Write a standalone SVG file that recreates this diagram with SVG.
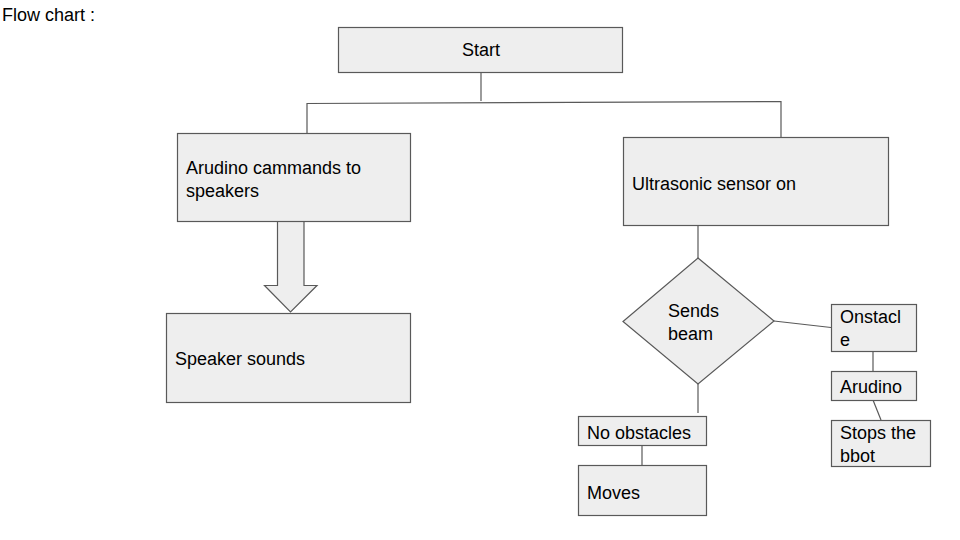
<svg xmlns="http://www.w3.org/2000/svg" width="960" height="540" viewBox="0 0 960 540">
<style>
.box{fill:#eeeeee;stroke:#595959;stroke-width:1.2}
.ln{fill:none;stroke:#595959;stroke-width:1.2}
text{font-family:"Liberation Sans",Arial,sans-serif;font-size:18px;fill:#000}
</style>
<rect width="960" height="540" fill="#ffffff"/>
<text x="2" y="21">Flow chart :</text>
<g id="connectors">
<path class="ln" d="M481 72 V101"/>
<path class="ln" d="M307 133 V103.5 L781 101.5 V137"/>
<path class="ln" d="M698 225 V258"/>
<path class="ln" d="M774 321 L831 327.5"/>
<path class="ln" d="M873 351 V371"/>
<path class="ln" d="M873 400 L881 420"/>
<path class="ln" d="M698 384 V413"/>
<path class="ln" d="M642 445 V465"/>
<path id="blockArrow" class="box" d="M277.5 221 V285.5 H264.5 L290.5 312 L317 285.5 H304 V221 Z"/>
</g>
<g id="start">
<rect class="box" x="338.5" y="27.5" width="284" height="45"/>
<text x="481" y="56" text-anchor="middle">Start</text>
</g>
<g id="arudinoCommands">
<rect class="box" x="177.5" y="133.5" width="233" height="88"/>
<text x="186" y="174">Arudino cammands to</text>
<text x="186" y="197">speakers</text>
</g>
<g id="ultrasonic">
<rect class="box" x="623.5" y="137.5" width="265" height="88"/>
<text x="632" y="190">Ultrasonic sensor on</text>
</g>
<g id="speakerSounds">
<rect class="box" x="166.5" y="313.5" width="244" height="89"/>
<text x="175" y="365">Speaker sounds</text>
</g>
<g id="sendsBeam">
<path class="box" d="M698 258 L774 321 L698 384 L623 321.5 Z"/>
<text x="668" y="317">Sends</text>
<text x="668" y="340">beam</text>
</g>
<g id="obstacle">
<rect class="box" x="831.5" y="304.5" width="85" height="47"/>
<text x="840" y="323">Onstacl</text>
<text x="840" y="346">e</text>
</g>
<g id="arudino">
<rect class="box" x="831.5" y="371.5" width="85" height="29"/>
<text x="840" y="393">Arudino</text>
</g>
<g id="stops">
<rect class="box" x="831.5" y="420.5" width="99" height="46"/>
<text x="840" y="439">Stops the</text>
<text x="840" y="462">bbot</text>
</g>
<g id="noObstacles">
<rect class="box" x="578.5" y="416.5" width="128" height="29"/>
<text x="587" y="439">No obstacles</text>
</g>
<g id="moves">
<rect class="box" x="578.5" y="465.5" width="128" height="50"/>
<text x="587" y="499">Moves</text>
</g>
</svg>
